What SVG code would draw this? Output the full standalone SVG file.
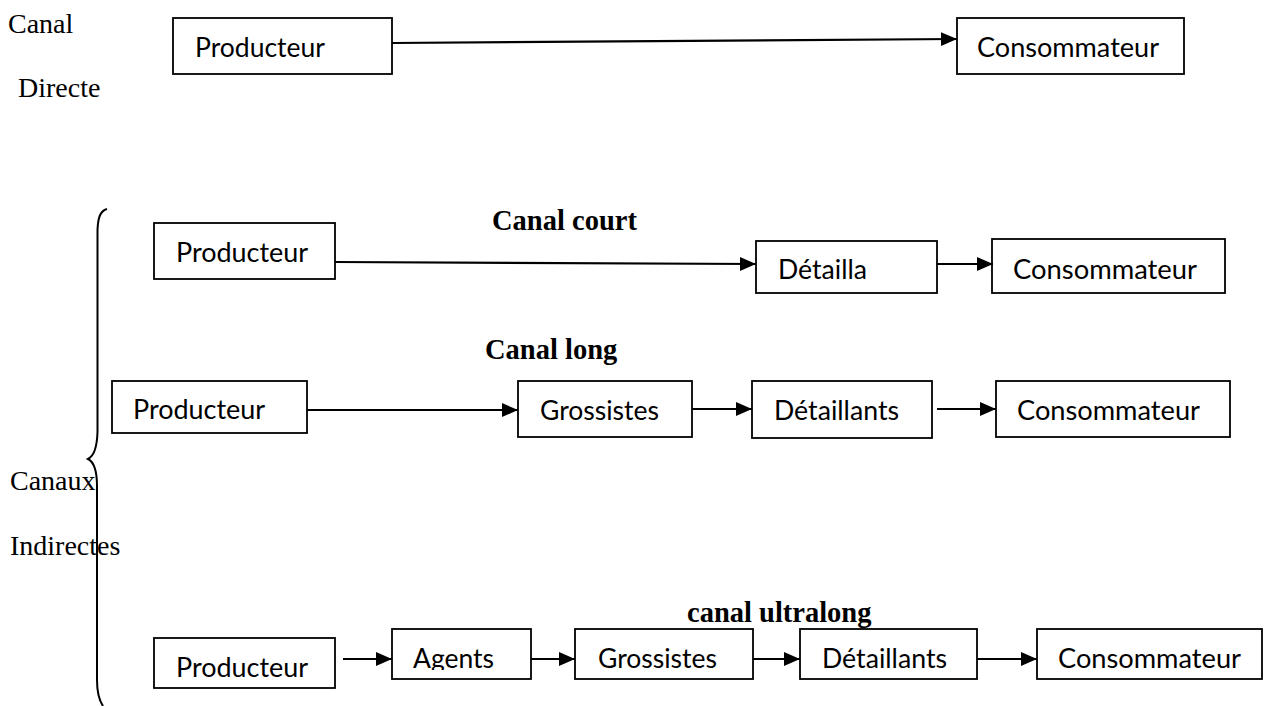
<svg xmlns="http://www.w3.org/2000/svg" width="1264" height="706" viewBox="0 0 1264 706">
  <style>
    .box { fill: #ffffff; stroke: #000000; stroke-width: 1.8; }
    .lbl { font-family: Lato, "Noto Sans", "Liberation Sans", sans-serif; font-size: 26px; fill: #000000; }
    .serif { font-family: "Liberation Serif", "Times New Roman", serif; font-size: 28px; fill: #000000; }
    .title { font-family: "Liberation Serif", "Times New Roman", serif; font-size: 28.5px; font-weight: bold; fill: #000000; }
    .arrow { fill: none; stroke: #000000; stroke-width: 2.2; marker-end: url(#head); }
    .brace { fill: none; stroke: #000000; stroke-width: 2; }
  </style>
  <defs>
    <marker id="head" markerUnits="userSpaceOnUse" markerWidth="18" markerHeight="16" refX="16" refY="7.5" orient="auto">
      <path d="M0,0.5 L16,7.5 L0,14.5 z" fill="#000000"/>
    </marker>
    <clipPath id="agentsClip">
      <rect x="392" y="629" width="139" height="41"/>
    </clipPath>
  </defs>
  <rect width="1264" height="706" fill="#ffffff"/>

  <!-- side captions and channel titles -->
  <g id="captions">
    <text class="serif" x="8" y="33">Canal</text>
    <text class="serif" x="18" y="97">Directe</text>
    <text class="serif" x="10" y="490">Canaux</text>
    <text class="serif" x="10" y="555">Indirectes</text>
    <text class="title" x="492" y="230">Canal court</text>
    <text class="title" x="485" y="359">Canal long</text>
    <text class="title" x="687" y="622">canal ultralong</text>
  </g>

  <!-- curly brace grouping the indirect channels -->
  <g id="brace">
    <path class="brace" d="M107,209 C100,211 98,218 97.5,230 L97.5,432 C97,448 94,456 88,459 C94,462 97,470 97,486 L97,680 C97,692 99,700 103,706"/>
  </g>

  <!-- direct channel -->
  <g id="direct-producteur">
    <rect class="box" x="173" y="18" width="219" height="56"/>
    <text class="lbl" x="195" y="57" textLength="130" lengthAdjust="spacingAndGlyphs">Producteur</text>
  </g>
  <g id="direct-consommateur">
    <rect class="box" x="957" y="18" width="227" height="56"/>
    <text class="lbl" x="977" y="57" textLength="182" lengthAdjust="spacingAndGlyphs">Consommateur</text>
  </g>

  <!-- short channel -->
  <g id="court-producteur">
    <rect class="box" x="154" y="223" width="181" height="56"/>
    <text class="lbl" x="176" y="262" textLength="132" lengthAdjust="spacingAndGlyphs">Producteur</text>
  </g>
  <g id="court-detailla">
    <rect class="box" x="756" y="241" width="181" height="52"/>
    <text class="lbl" x="778" y="279" textLength="89" lengthAdjust="spacingAndGlyphs">Détailla</text>
  </g>
  <g id="court-consommateur">
    <rect class="box" x="992" y="239" width="233" height="54"/>
    <text class="lbl" x="1013" y="279" textLength="184" lengthAdjust="spacingAndGlyphs">Consommateur</text>
  </g>

  <!-- long channel -->
  <g id="long-producteur">
    <rect class="box" x="112" y="381" width="195" height="52"/>
    <text class="lbl" x="133" y="419" textLength="132" lengthAdjust="spacingAndGlyphs">Producteur</text>
  </g>
  <g id="long-grossistes">
    <rect class="box" x="518" y="381" width="174" height="56"/>
    <text class="lbl" x="540" y="420" textLength="119" lengthAdjust="spacingAndGlyphs">Grossistes</text>
  </g>
  <g id="long-detaillants">
    <rect class="box" x="752" y="381" width="180" height="57"/>
    <text class="lbl" x="774" y="420" textLength="125" lengthAdjust="spacingAndGlyphs">Détaillants</text>
  </g>
  <g id="long-consommateur">
    <rect class="box" x="996" y="381" width="234" height="56"/>
    <text class="lbl" x="1017" y="420" textLength="183" lengthAdjust="spacingAndGlyphs">Consommateur</text>
  </g>

  <!-- ultra-long channel -->
  <g id="ultra-producteur">
    <rect class="box" x="154" y="638" width="181" height="50"/>
    <text class="lbl" x="176" y="677" textLength="132" lengthAdjust="spacingAndGlyphs">Producteur</text>
  </g>
  <g id="ultra-agents">
    <rect class="box" x="392" y="629" width="139" height="50"/>
    <text class="lbl" x="413" y="668" textLength="81" lengthAdjust="spacingAndGlyphs" clip-path="url(#agentsClip)">Agents</text>
  </g>
  <g id="ultra-grossistes">
    <rect class="box" x="575" y="629" width="178" height="50"/>
    <text class="lbl" x="598" y="668" textLength="119" lengthAdjust="spacingAndGlyphs">Grossistes</text>
  </g>
  <g id="ultra-detaillants">
    <rect class="box" x="800" y="629" width="177" height="50"/>
    <text class="lbl" x="822" y="668" textLength="125" lengthAdjust="spacingAndGlyphs">Détaillants</text>
  </g>
  <g id="ultra-consommateur">
    <rect class="box" x="1037" y="629" width="225" height="50"/>
    <text class="lbl" x="1058" y="668" textLength="183" lengthAdjust="spacingAndGlyphs">Consommateur</text>
  </g>

  <!-- connectors -->
  <g id="connectors">
    <line class="arrow" x1="392" y1="43" x2="957" y2="39"/>
    <line class="arrow" x1="335" y1="262" x2="756" y2="264"/>
    <line class="arrow" x1="937" y1="264" x2="993" y2="264"/>
    <line class="arrow" x1="307" y1="410" x2="518" y2="410"/>
    <line class="arrow" x1="692" y1="409" x2="752" y2="409"/>
    <line class="arrow" x1="937" y1="409" x2="996" y2="409"/>
    <line class="arrow" x1="343" y1="659" x2="392" y2="659"/>
    <line class="arrow" x1="531" y1="659" x2="575" y2="659"/>
    <line class="arrow" x1="753" y1="659" x2="800" y2="659"/>
    <line class="arrow" x1="977" y1="659" x2="1037" y2="659"/>
  </g>
</svg>
